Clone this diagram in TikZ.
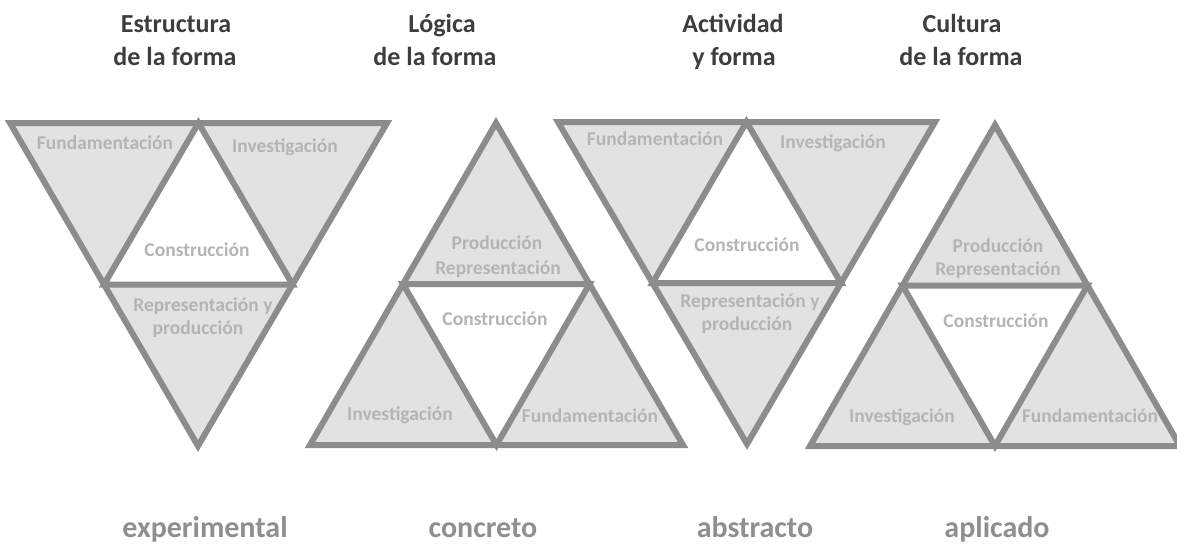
\documentclass[tikz,border=0pt]{standalone}
\usepackage{fontspec}
\setmainfont{Carlito}
\usetikzlibrary{calc}
\definecolor{tline}{HTML}{8C8C8C}
\definecolor{tfill}{HTML}{E2E2E2}
\definecolor{intext}{HTML}{B4B4B4}
\definecolor{ttext}{HTML}{3D3D3D}
\definecolor{btext}{HTML}{8F8F8F}
\tikzset{
  triline/.style={draw=tline, line width=6pt, line join=miter},
  inlabel/.style={text=intext, font=\fontsize{19.5}{23}\selectfont\bfseries, inner sep=0pt, text height=1.45ex, text depth=.25ex},
  titlelabel/.style={text=ttext, font=\fontsize{26}{31}\selectfont\bfseries, inner sep=0pt, anchor=base},
  bottomlabel/.style={text=btext, font=\fontsize{30}{34}\selectfont\bfseries, inner sep=0pt, anchor=base}
}
\newcommand{\tripart}[1]{%
  \fill[tfill] (#1a) -- (#1b) -- (#1c) -- cycle;
  \fill[white] ($(#1a)!.5!(#1b)$) -- ($(#1b)!.5!(#1c)$) -- ($(#1c)!.5!(#1a)$) -- cycle;
  \draw[triline] (#1a) -- (#1b) -- (#1c) -- cycle;
  \draw[triline] ($(#1a)!.5!(#1b)$) -- ($(#1b)!.5!(#1c)$) -- ($(#1c)!.5!(#1a)$) -- cycle;
}
\begin{document}
\begin{tikzpicture}[x=1pt, y=-1pt]
\useasboundingbox (0,0) rectangle (1177,544);
% triangle corners
\coordinate (ta) at (10,123);  \coordinate (tb) at (387,123);  \coordinate (tc) at (198,446);
\coordinate (ua) at (310,445); \coordinate (ub) at (683,445);  \coordinate (uc) at (496,123);
\coordinate (va) at (558,122); \coordinate (vb) at (935,122);  \coordinate (vc) at (747,444);
\coordinate (wa) at (810,446); \coordinate (wb) at (1180,446); \coordinate (wc) at (995,125);
\tripart{t}
\tripart{u}
\tripart{v}
\tripart{w}
% titles
\node[titlelabel] (t1a) at (176,32) {Estructura};
\node[titlelabel] (t1b) at (175,65) {de la forma};
\node[titlelabel] (t2a) at (442,32) {Lógica};
\node[titlelabel] (t2b) at (435,65) {de la forma};
\node[titlelabel] (t3a) at (733,32) {Actividad};
\node[titlelabel] (t3b) at (734,65) {y forma};
\node[titlelabel] (t4a) at (962,32) {Cultura};
\node[titlelabel] (t4b) at (961,65) {de la forma};
% triangle 1
\node[inlabel] (l1f) at (105,147) {Fundamentación};
\node[inlabel] (l1i) at (285,150) {Investigación};
\node[inlabel] (l1c) at (197,254) {Construcción};
\node[inlabel] (l1r) at (203,309) {Representación y};
\node[inlabel] (l1p) at (198,332) {producción};
% triangle 2
\node[inlabel] (l2p) at (497,247) {Producción};
\node[inlabel] (l2r) at (498,272) {Representación};
\node[inlabel] (l2c) at (495,323) {Construcción};
\node[inlabel] (l2i) at (400,418) {Investigación};
\node[inlabel] (l2f) at (590,420) {Fundamentación};
% triangle 3
\node[inlabel] (l3f) at (655,143) {Fundamentación};
\node[inlabel] (l3i) at (833,146) {Investigación};
\node[inlabel] (l3c) at (747,249) {Construcción};
\node[inlabel] (l3r) at (750,305) {Representación y};
\node[inlabel] (l3p) at (747,328) {producción};
% triangle 4
\node[inlabel] (l4p) at (998,250) {Producción};
\node[inlabel] (l4r) at (998,273) {Representación};
\node[inlabel] (l4c) at (996,325) {Construcción};
\node[inlabel] (l4i) at (902,420) {Investigación};
\node[inlabel] (l4f) at (1090,420) {Fundamentación};
% bottom labels
\node[bottomlabel] (b1) at (205,537) {experimental};
\node[bottomlabel] (b2) at (483,537) {concreto};
\node[bottomlabel] (b3) at (755,537) {abstracto};
\node[bottomlabel] (b4) at (997,537) {aplicado};
\end{tikzpicture}
\end{document}
